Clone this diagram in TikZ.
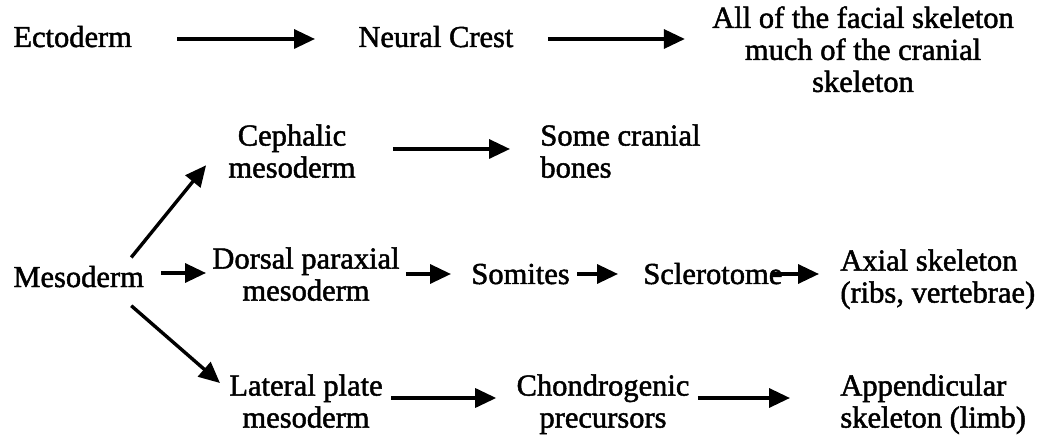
\documentclass[tikz,border=0pt]{standalone}
\usepackage{fontspec}
\setmainfont{Liberation Serif}
\newfontfamily\lblfont{Liberation Serif}[FakeBold=1.6]
\usetikzlibrary{arrows.meta,calc}

\begin{document}
\begin{tikzpicture}[x=0.5pt,y=-0.5pt,
  lbl/.style={inner sep=0pt, font=\lblfont\fontsize{15.25}{16}\selectfont},
  arr/.style={-{Triangle[length=10.5pt,width=9.5pt]}, line width=1.7pt},
]
\useasboundingbox (0,0) rectangle (1049,438);
% ectoderm row
\node[lbl,anchor=base west] (ecto)  at (13,47)  {Ectoderm};
\node[lbl,anchor=base west] (crest) at (358,47) {Neural Crest};
\node[lbl,anchor=north,align=center] (face) at (863,6)
  {All of the facial skeleton\\much of the cranial\\skeleton};
% mesoderm branches
\node[lbl,anchor=north,align=center] (ceph) at (292,124) {Cephalic\\mesoderm};
\node[lbl,anchor=north west,align=left] (cran) at (540,124) {Some cranial\\bones};
\node[lbl,anchor=base west] (meso) at (13,287) {Mesoderm};
\node[lbl,anchor=north,align=center] (dors) at (306,247) {Dorsal paraxial\\mesoderm};
\node[lbl,anchor=base west] (som) at (471,284) {Somites};
\node[lbl,anchor=base west] (scl) at (643,284) {Sclerotome};
\node[lbl,anchor=north west,align=left] (axial) at (840,249) {Axial skeleton\\(ribs, vertebrae)};
\node[lbl,anchor=north,align=center] (lat)  at (306,374) {Lateral plate\\mesoderm};
\node[lbl,anchor=north,align=center] (chon) at (603,374) {Chondrogenic\\precursors};
\node[lbl,anchor=north west,align=left] (app) at (840,374) {Appendicular\\skeleton (limb)};

% arrows
\draw[arr] ($(ecto.base east)+(45,-8)$) -- ($(crest.base west)+(-43,-8)$);
\draw[arr] ($(crest.base east)+(34,-8)$) -- ($(crest.base east -| face.west)+(-27,-8)$);
\draw[arr] ($(ceph.north east)+(37,25)$) -- ($(cran.north west)+(-30,25)$);
\draw[arr] ($(meso.north east)+(-13,-8)$) -- ($(ceph.south west)+(-22,-13)$);
\draw[arr] ($(meso.base east)+(17,-14)$) -- ($(meso.base east -| dors.west)+(-6,-14)$);
\draw[arr] ($(meso.south east)+(-13,18)$) -- ($(lat.north west)+(-9,9)$);
\draw[arr] ($(som.base west -| dors.east)+(6,-10)$) -- ($(som.base west)+(-20,-10)$);
\draw[arr] ($(som.base east)+(7,-10)$) -- ($(scl.base west)+(-25,-10)$);
\draw[arr] ($(scl.base east)+(-10,-10)$) -- ($(scl.base east -| axial.west)+(-21,-10)$);
\draw[arr] ($(lat.north east)+(8,24)$) -- ($(lat.north east -| chon.west)+(-20,24)$);
\draw[arr] ($(chon.north east)+(8,24)$) -- ($(chon.north east -| app.west)+(-50,24)$);
\end{tikzpicture}
\end{document}
